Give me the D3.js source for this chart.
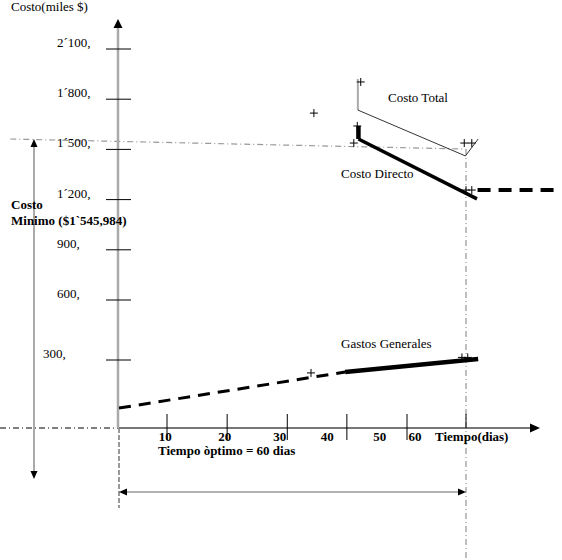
<!DOCTYPE html>
<html>
<head>
<meta charset="utf-8">
<script src="https://cdn.jsdelivr.net/npm/d3@7"></script>
<style>
    body { margin: 0; background: #fff; }
    svg { display: block; font-family: "Liberation Serif", "DejaVu Serif", serif; }
    .lbl { font-size: 13px; fill: #000; }
    .bold { font-weight: bold; }
</style>
</head>
<body>
<svg id="chart"></svg>
<script>
// valores del eje Y (miles $) y sus rotulos
const yTicks = [300, 600, 900, 1200, 1500, 1800, 2100];
const yTickLabels = ['300,', '600,', '900,', '1´200,', '1´500,', '1´800,', '2´100,'];

// eje X (dias): marcas y rotulos tal como estan dibujados
const xTickDays = [8.3, 18.7, 29.1, 39.4, 49.8, 60];
const xLabelDays = [8, 18.3, 27.8, 36, 45.1, 51.2];
const xLabels = ['10', '20', '30', '40', '50', '60'];
const tiempoOptimo = 60;

// curvas {dia, costo}
const costoDirecto = [{ dia: 41.4, costo: 1562 }, { dia: 61.9, costo: 1204 }];
const costoDirectoInicio = [{ dia: 41.4, costo: 1562 }, { dia: 41.4, costo: 1640 }];
const costoDirectoSigue = [{ dia: 62, costo: 1257 }, { dia: 76.5, costo: 1257 }];
const costoTotal = [{ dia: 41.3, costo: 1735 }, { dia: 59.9, costo: 1461 }];
const costoTotalInicio = [{ dia: 41.3, costo: 1735 }, { dia: 41.3, costo: 1921 }];
const costoTotalSigue = [{ dia: 59.9, costo: 1461 }, { dia: 62.1, costo: 1562 }];
const gastosPrevios = [{ dia: 0, costo: 88 }, { dia: 39.1, costo: 247 }];
const gastosGenerales = [{ dia: 39.1, costo: 247 }, { dia: 62.1, costo: 305 }];
const costoMinimo = [{ dia: -18.8, costo: 1562 }, { dia: 59.9, costo: 1502 }];

// puntos marcados con "+"
const marcas = [
    { dia: 41.8, costo: 1903 }, { dia: 33.7, costo: 1717 }, { dia: 41.2, costo: 1640 },
    { dia: 40.6, costo: 1538 }, { dia: 59.7, costo: 1538 }, { dia: 61.0, costo: 1538 },
    { dia: 60.0, costo: 1257 }, { dia: 61.0, costo: 1257 }, { dia: 33.2, costo: 243 },
    { dia: 59.3, costo: 313 }, { dia: 60.3, costo: 313 }
];

const width = 562;
const height = 560;

const svg = d3.select('#chart')
    .attr('width', width)
    .attr('height', height)
    .attr('viewBox', [0, 0, width, height]);

const x = d3.scaleLinear().domain([0, tiempoOptimo]).range([119, 466]);
// el dibujo original no es lineal: escala por tramos
const y = d3.scaleLinear().domain([0, 300, 600, 2100]).range([428, 360, 300, 49]);

const line = d3.line().x(d => x(d.dia)).y(d => y(d.costo));

const tri = (tx, ty, dir, len, half) => {
    // dir: 'up' | 'down' | 'left' | 'right'
    if (dir === 'up') return `M${tx},${ty}L${tx - half},${ty + len}L${tx + half},${ty + len}Z`;
    if (dir === 'down') return `M${tx},${ty}L${tx - half},${ty - len}L${tx + half},${ty - len}Z`;
    if (dir === 'left') return `M${tx},${ty}L${tx + len},${ty - half}L${tx + len},${ty + half}Z`;
    return `M${tx},${ty}L${tx - len},${ty - half}L${tx - len},${ty + half}Z`;
};

const x0 = x(0);
const y0 = y(0);

//guias punteadas
svg.append('line')
    .attr('x1', 0).attr('x2', x0).attr('y1', y0).attr('y2', y0)
    .attr('stroke', '#000').attr('stroke-width', 1)
    .attr('stroke-dasharray', '6,3,1,3');

svg.append('path').datum(costoMinimo)
    .attr('d', line)
    .attr('fill', 'none')
    .attr('stroke', '#999').attr('stroke-width', 1.2)
    .attr('stroke-dasharray', '6,3,1,3');

svg.append('line')
    .attr('x1', x(tiempoOptimo)).attr('x2', x(tiempoOptimo))
    .attr('y1', y(costoMinimo[1].costo)).attr('y2', height)
    .attr('stroke', '#aaa').attr('stroke-width', 1.5)
    .attr('stroke-dasharray', '6,3,1,3');

svg.append('line')
    .attr('x1', x0).attr('x2', x0).attr('y1', y0).attr('y2', 508)
    .attr('stroke', '#999').attr('stroke-width', 2)
    .attr('stroke-dasharray', '5,2');

//eje y
svg.append('line')
    .attr('x1', x0 - 1).attr('x2', x0 - 1).attr('y1', y0).attr('y2', 26)
    .attr('stroke', '#aaa').attr('stroke-width', 2.5);
svg.append('path').attr('d', tri(x0 - 1, 19, 'up', 9, 4.5)).attr('fill', '#000');

svg.selectAll('.ytick')
    .data(yTicks)
    .enter()
    .append('line')
    .attr('class', 'ytick')
    .attr('x1', 106).attr('x2', 131)
    .attr('y1', d => y(d)).attr('y2', d => y(d))
    .attr('stroke', '#000').attr('stroke-width', 1);

svg.selectAll('.ylabel')
    .data(yTicks)
    .enter()
    .append('text')
    .attr('class', 'lbl')
    .attr('x', d => d === 300 ? 43 : 57)
    .attr('y', d => y(d) - 2)
    .text((d, i) => yTickLabels[i]);

svg.append('text').attr('class', 'lbl').attr('x', 11).attr('y', 11).text('Costo(miles $)');

//eje x
svg.append('line')
    .attr('x1', x0).attr('x2', 531).attr('y1', y0).attr('y2', y0)
    .attr('stroke', '#777').attr('stroke-width', 2);
svg.append('path').attr('d', tri(540, y0, 'right', 10, 4.5)).attr('fill', '#000');

svg.selectAll('.xtick')
    .data(xTickDays)
    .enter()
    .append('line')
    .attr('x1', d => x(d)).attr('x2', d => x(d))
    .attr('y1', y0 - 14).attr('y2', (d, i) => i === xTickDays.length - 1 ? y0 : y0 + 12)
    .attr('stroke', '#000').attr('stroke-width', 1);

svg.selectAll('.xlabel')
    .data(xLabelDays)
    .enter()
    .append('text')
    .attr('class', 'lbl bold')
    .attr('x', d => x(d))
    .attr('y', y0 + 13)
    .attr('text-anchor', 'middle')
    .text((d, i) => xLabels[i]);

svg.append('text').attr('class', 'lbl bold').attr('x', 435).attr('y', y0 + 13).text('Tiempo(dias)');
svg.append('text').attr('class', 'lbl bold').attr('x', 158).attr('y', y0 + 27).text('Tiempo òptimo = 60 dias');

//flechas de costo minimo y tiempo optimo
const yMin = y(costoMinimo[0].costo);
svg.append('line')
    .attr('x1', 34).attr('x2', 34).attr('y1', yMin + 6).attr('y2', 472)
    .attr('stroke', '#aaa').attr('stroke-width', 2);
svg.append('path').attr('d', tri(34, yMin, 'up', 8, 3.5)).attr('fill', '#000');
svg.append('path').attr('d', tri(34, 479, 'down', 8, 3.5)).attr('fill', '#000');

svg.append('line')
    .attr('x1', x0 + 6).attr('x2', x(tiempoOptimo) - 6).attr('y1', 492).attr('y2', 492)
    .attr('stroke', '#999').attr('stroke-width', 1.5);
svg.append('path').attr('d', tri(x0, 492, 'left', 8, 3.5)).attr('fill', '#000');
svg.append('path').attr('d', tri(x(tiempoOptimo), 492, 'right', 8, 3.5)).attr('fill', '#000');

svg.append('text').attr('class', 'lbl bold').attr('x', 11).attr('y', 209).text('Costo');
svg.append('text').attr('class', 'lbl bold').attr('x', 11).attr('y', 225).text('Minimo ($1`545,984)');

//costo total
svg.append('path').datum(costoTotalInicio)
    .attr('d', line).attr('fill', 'none')
    .attr('stroke', '#aaa').attr('stroke-width', 2);
svg.append('path').datum(costoTotal)
    .attr('d', line).attr('fill', 'none')
    .attr('stroke', '#000').attr('stroke-width', 0.8);
svg.append('path').datum(costoTotalSigue)
    .attr('d', line).attr('fill', 'none')
    .attr('stroke', '#000').attr('stroke-width', 0.8);
svg.append('text').attr('class', 'lbl').attr('x', 388).attr('y', 102).text('Costo Total');

//costo directo
svg.append('path').datum(costoDirectoInicio)
    .attr('d', line).attr('fill', 'none')
    .attr('stroke', '#000').attr('stroke-width', 4.5);
svg.append('path').datum(costoDirecto)
    .attr('d', line).attr('fill', 'none')
    .attr('stroke', '#000').attr('stroke-width', 3.5);
svg.append('path').datum(costoDirectoSigue)
    .attr('d', line).attr('fill', 'none')
    .attr('stroke', '#000').attr('stroke-width', 4)
    .attr('stroke-dasharray', '13,8');
svg.append('text').attr('class', 'lbl').attr('x', 341).attr('y', 178).text('Costo Directo');

//gastos generales
svg.append('path').datum(gastosPrevios)
    .attr('d', line).attr('fill', 'none')
    .attr('stroke', '#000').attr('stroke-width', 3)
    .attr('stroke-dasharray', '12,8');
svg.append('path').datum(gastosGenerales)
    .attr('d', line).attr('fill', 'none')
    .attr('stroke', '#000').attr('stroke-width', 4.5);
svg.append('text').attr('class', 'lbl').attr('x', 341).attr('y', 348).text('Gastos Generales');

//marcas
svg.selectAll('.marca')
    .data(marcas)
    .enter()
    .append('path')
    .attr('d', d => {
        const px = x(d.dia), py = y(d.costo);
        return `M${px - 4},${py}H${px + 4}M${px},${py - 4}V${py + 4}`;
    })
    .attr('stroke', '#000').attr('stroke-width', 1)
    .attr('fill', 'none');
</script>
</body>
</html>
